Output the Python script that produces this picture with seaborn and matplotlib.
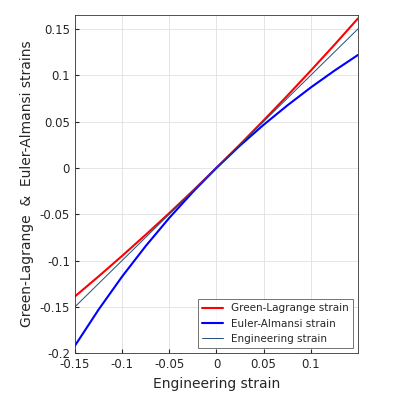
import matplotlib
matplotlib.use("Agg")
import matplotlib.pyplot as plt
import seaborn as sns
import pandas as pd

strain = [-0.15,-0.125,-0.1,-0.075,-0.05,-0.025,0,0.025,0.05,0.075,0.1,0.125,0.15]
green_lagrange = [-0.1388,-0.1172,-0.095,-0.0722,-0.0488,-0.0247,0,0.0253,0.0513,0.0778,0.105,0.1328,0.1613]
euler_almansi = [-0.1920,-0.1531,-0.1173,-0.0844,-0.0540,-0.0260,0,0.0241,0.0465,0.0673,0.0868,0.1049,0.1219]
engineering = strain

sns.set_style("whitegrid")
plt.rcParams['font.family'] = ['DejaVu Sans']
fig = plt.figure(figsize=(4.05, 4.05), dpi=100)
ax = fig.add_axes([0.185, 0.128, 0.699, 0.835])
sns.lineplot(x=strain, y=green_lagrange, color="red", lw=1.5, label="Green-Lagrange strain", ax=ax)
sns.lineplot(x=strain, y=euler_almansi, color="blue", lw=1.5, label="Euler-Almansi strain", ax=ax)
sns.lineplot(x=strain, y=engineering, color="#1f4e79", lw=0.7, label="Engineering strain", ax=ax)
ax.set_xlim(-0.15, 0.15)
ax.set_ylim(-0.2, 0.165)
ax.set_xticks([-0.15,-0.1,-0.05,0,0.05,0.1])
ax.set_xticklabels(["-0.15","-0.1","-0.05","0","0.05","0.1"])
ax.set_yticks([-0.2,-0.15,-0.1,-0.05,0,0.05,0.1,0.15])
ax.set_yticklabels(["-0.2","-0.15","-0.1","-0.05","0","0.05","0.1","0.15"])
ax.tick_params(labelsize=8.5, length=3, direction="in", left=True, bottom=True)
ax.grid(color="#e0e0e0", lw=0.6)
for s in ax.spines.values():
    s.set_color("#333333"); s.set_linewidth(0.6)
ax.set_xlabel("Engineering strain", fontsize=10)
ax.set_ylabel("Green-Lagrange  &  Euler-Almansi strains", fontsize=10)
leg = ax.legend(loc="lower right", fontsize=7.5, frameon=True, fancybox=False, edgecolor="#333333")
leg.get_frame().set_linewidth(0.6)
fig.savefig("out.png", dpi=100)
